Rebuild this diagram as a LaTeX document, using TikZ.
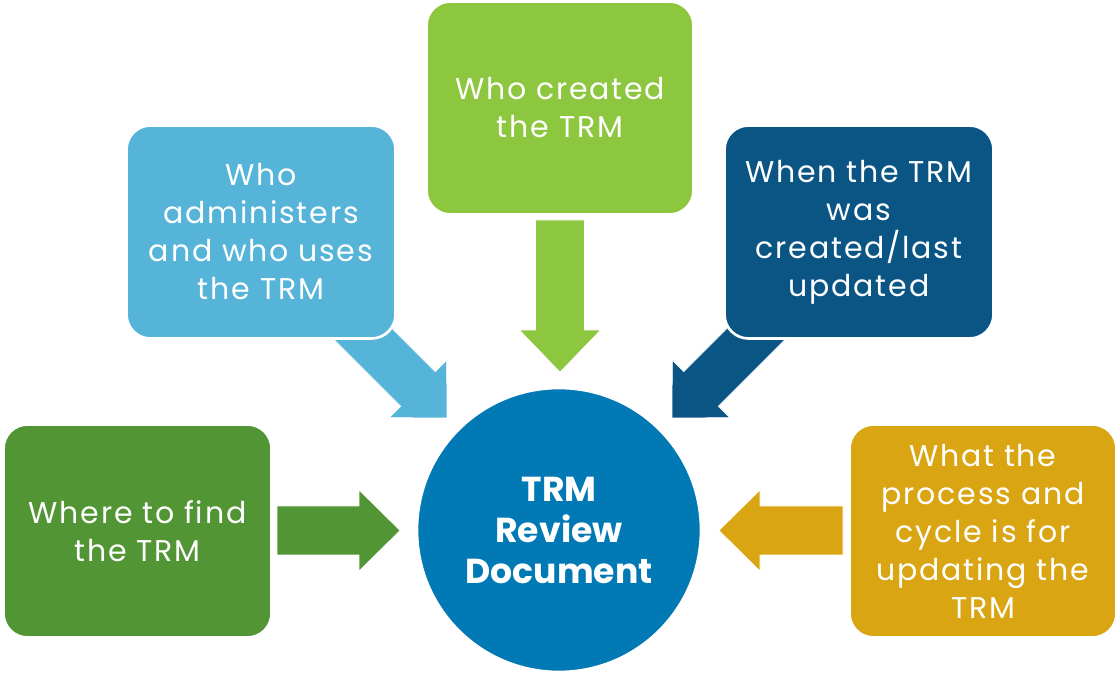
\documentclass[tikz,border=0pt]{standalone}
\usepackage{fontspec}
\setmainfont{Poppins}
\newfontfamily\boxfont[LetterSpace=6]{Poppins}
\definecolor{cTop}{HTML}{8DC63F}
\definecolor{cLight}{HTML}{56B4D9}
\definecolor{cDark}{HTML}{0B5584}
\definecolor{cLeft}{HTML}{529535}
\definecolor{cGold}{HTML}{DAA512}
\definecolor{cCircle}{HTML}{0079B4}
\tikzset{
  box/.style={draw=white, line width=2pt, rounded corners=18pt, text=white, align=center,
    font=\boxfont\fontsize{22.5pt}{28.5pt}\selectfont, inner sep=0pt},
  hub/.style={circle, draw=white, line width=2pt, fill=cCircle, text=white, align=center,
    font=\fontsize{26pt}{30.75pt}\selectfont\bfseries, inner sep=0pt},
  barrow/.style={draw=white, line width=0.4pt}
}
\begin{document}
\begin{tikzpicture}[x=0.75pt,y=-0.75pt]
\useasboundingbox (0,0) rectangle (1115,673);
% block arrows (drawn first, boxes cover their tails)
\fill[cTop, barrow] (535.5,220) -- (584.5,220) -- (584.5,330) -- (600.5,330) -- (560,372)
  -- (519.5,330) -- (535.5,330) -- cycle;
\fill[cLeft, barrow] (277,506) -- (359,506) -- (359,490) -- (400,530.5) -- (359,571)
  -- (359,555) -- (277,555) -- cycle;
\fill[cGold, barrow] (843,506) -- (760,506) -- (760,490) -- (719,530.5) -- (760,571)
  -- (760,555) -- (843,555) -- cycle;
\fill[cLight, barrow] (365.3,301.7) -- (435.3,371.7) -- (446.6,360.4) -- (447,418)
  -- (389.4,417.6) -- (400.7,406.3) -- (330.7,336.3) -- cycle;
\fill[cDark, barrow] (753.7,301.7) -- (683.7,371.7) -- (672.4,360.4) -- (672,418)
  -- (729.6,417.6) -- (718.3,406.3) -- (788.3,336.3) -- cycle;
% boxes
\node[box, fill=cTop, minimum width=267*0.75pt, minimum height=213*0.75pt] (top) at (560,108)
  {Who created\\the TRM};
\node[box, fill=cLight, minimum width=269*0.75pt, minimum height=213*0.75pt] (adm) at (261,232)
  {Who\\administers\\and who uses\\the TRM};
\node[box, fill=cDark, minimum width=269*0.75pt, minimum height=213*0.75pt] (when) at (859,232)
  {When the TRM\\was\\created/last\\updated};
\node[box, fill=cLeft, minimum width=268*0.75pt, minimum height=213*0.75pt] (where) at (137.5,531)
  {Where to find\\the TRM};
\node[box, fill=cGold, minimum width=267*0.75pt, minimum height=213*0.75pt] (what) at (983,531)
  {What the\\process and\\cycle is for\\updating the\\TRM};
\node[hub, minimum size=284*0.75pt] (hub) at (559,530) {TRM\\Review\\Document};
\end{tikzpicture}
\end{document}
